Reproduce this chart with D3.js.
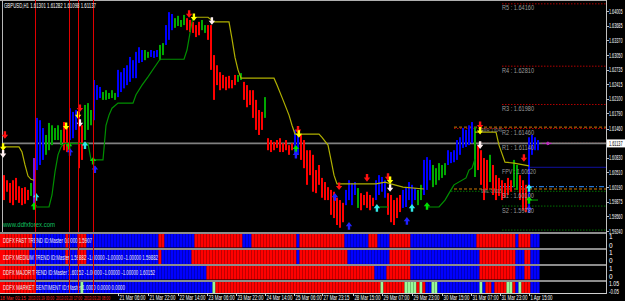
<!DOCTYPE html>
<html><head><meta charset="utf-8">
<script src="https://cdn.jsdelivr.net/npm/d3@7"></script>
<style>html,body{margin:0;padding:0;background:#000;overflow:hidden}svg{display:block}</style>
</head><body><svg id="c" width="625" height="301"></svg>
<script>
// ---------- DATA ----------
const barColorCodes = "RRRRRRRRR"+"G"+"P"+"BBB"+"GGGGGG"+"RR"+"BBB"+"RR"+"GGG"+"BBB"+"GGGGG"+"BBBBBBBBB"+"GG"+"BBB"+"GG"+"BBB"+"GGGG"+"RRRRR"+"GG"+"RRRRRRRRRR"+"GG"+"RRRRRRR"+"G"+"RRRRRRRRR"+"BB"+"RRRRRRRRRRRRRRR"+"BBBB"+"G"+"RRRRR"+"BBBB"+"RRRRR"+"BBBBB"+"GG"+"BBB"+"GGGGG"+"BBBBBBBBB"+"G"+"RRRR"+"G"+"RRRRRRR"+"GG"+"RRR"+"BBBB";
const barHigh = [1.6045,1.6034,1.6028,1.6034,1.6039,1.6021,1.6017,1.6019,1.6013,1.6028,
1.6082,1.6169,1.6164,1.6147,1.6132,1.6158,1.6153,1.6147,1.6153,1.6143,
1.6160,1.6149,1.6190,1.6182,1.6186,1.6182,1.6153,1.6197,1.6201,1.6186,
1.6251,1.6240,1.6236,1.6225,1.6229,1.6223,1.6229,1.6223,1.6273,1.6268,
1.6277,1.6283,1.6301,1.6294,1.6312,1.6322,1.6316,1.6316,1.6312,1.6316,
1.6314,1.6316,1.6327,1.6331,1.6370,1.6398,1.6394,1.6385,1.6390,1.6381,
1.6392,1.6385,1.6381,1.6377,1.6370,1.6377,1.6381,1.6370,1.6370,1.6370,
1.6305,1.6283,1.6268,1.6262,1.6258,1.6260,1.6251,1.6262,1.6262,1.6266,
1.6247,1.6240,1.6229,1.6229,1.6208,1.6186,1.6182,1.6214,1.6125,1.6121,
1.6117,1.6121,1.6125,1.6114,1.6121,1.6110,1.6114,1.6143,1.6132,1.6132,
1.6121,1.6099,1.6099,1.6089,1.6056,1.6067,1.6039,1.6030,1.6019,1.6013,
1.6009,1.5996,1.5991,1.5985,1.6013,1.6034,1.6028,1.6030,1.6017,1.6006,
1.6002,1.6009,1.6002,1.5996,1.6034,1.6045,1.6041,1.6034,1.6006,1.6002,
1.5991,1.5996,1.6002,1.6013,1.6019,1.6030,1.6024,1.6017,1.6013,1.6024,
1.6078,1.6084,1.6078,1.6067,1.6060,1.6071,1.6067,1.6071,1.6099,1.6095,
1.6099,1.6121,1.6127,1.6147,1.6143,1.6153,1.6160,1.6149,1.6110,1.6099,
1.6082,1.6078,1.6089,1.6067,1.6045,1.6039,1.6034,1.6028,1.6039,1.6034,
1.6078,1.6067,1.6045,1.6034,1.6024,1.6127,1.6132,1.6127,1.6121];
const barLow = [1.5991,1.6009,1.5985,1.5980,1.5991,1.5985,1.5980,1.5983,1.5991,1.6000,
1.5974,1.6056,1.6067,1.6078,1.6089,1.6099,1.6110,1.6121,1.6121,1.6110,
1.6099,1.6095,1.6121,1.6125,1.6143,1.6060,1.6078,1.6121,1.6143,1.6153,
1.6164,1.6208,1.6212,1.6208,1.6208,1.6210,1.6212,1.6208,1.6214,1.6225,
1.6233,1.6240,1.6247,1.6255,1.6255,1.6288,1.6290,1.6294,1.6299,1.6301,
1.6299,1.6301,1.6294,1.6305,1.6327,1.6338,1.6359,1.6364,1.6368,1.6366,
1.6370,1.6359,1.6355,1.6353,1.6344,1.6348,1.6359,1.6353,1.6338,1.6273,
1.6208,1.6240,1.6229,1.6233,1.6229,1.6233,1.6233,1.6240,1.6247,1.6251,
1.6208,1.6192,1.6197,1.6169,1.6143,1.6132,1.6143,1.6169,1.6099,1.6095,
1.6099,1.6104,1.6095,1.6095,1.6099,1.6089,1.6099,1.6093,1.6089,1.6078,
1.6060,1.6024,1.6045,1.6009,1.6006,1.6024,1.5996,1.5991,1.5991,1.5959,
1.5952,1.5937,1.5931,1.5943,1.5980,1.5991,1.5980,1.6002,1.5974,1.5969,
1.5980,1.5974,1.5969,1.5978,1.5991,1.6002,1.6009,1.5996,1.5959,1.5943,
1.5937,1.5952,1.5965,1.5974,1.5976,1.5991,1.5980,1.5991,1.5980,1.5991,
1.6002,1.6013,1.6034,1.6019,1.6024,1.6034,1.6039,1.6045,1.6067,1.6071,
1.6073,1.6078,1.6089,1.6104,1.6106,1.6110,1.6114,1.6041,1.6056,1.6024,
1.5991,1.6013,1.6030,1.6002,1.5991,1.6000,1.5991,1.5996,1.6002,1.6009,
1.6019,1.6013,1.5991,1.5969,1.5965,1.5969,1.6089,1.6099,1.6099];

// trailing stop line segments [barIndex, price]
const yellowA = [[0,1.6106],[5,1.6106],[6,1.6095],[7,1.6067],[8,1.6043],[9,1.6036],[10,1.6034]];
const greenB = [[10,1.5976],[15,1.5976],[16,1.6002],[17,1.6052],[18,1.6089],[19,1.6106],[20,1.6114],[28,1.6114],[29,1.6078],[33,1.6078],[34,1.6153],[35,1.6175],[36,1.6190],[38,1.6201],[43,1.6201],[44,1.6219],[46,1.6240],[48,1.6258],[50,1.6277],[52,1.6296],[60,1.6296],[61,1.6316],[62,1.6353],[63,1.6387]];
const yellowC = [[63,1.6387],[68,1.6387],[70,1.6377],[75,1.6377],[76,1.6340],[77,1.6300],[78,1.6273],[79,1.6255],[90,1.6255],[91,1.6240],[93,1.6208],[95,1.6175],[96,1.6153],[97,1.6134],[105,1.6134],[106,1.6127],[108,1.6110],[109,1.6078],[110,1.6045],[111,1.6026],[124,1.6026],[127,1.6030],[129,1.6026],[133,1.6019],[140,1.6015]];
const greenF = [[124,1.5976],[128,1.5976]];
const greenD = [[141,1.5976],[145,1.5976],[147,1.5991],[149,1.6013],[150,1.6024],[154,1.6039],[155,1.6056],[156,1.6060],[157,1.6080]];
const yellowE = [[157,1.6138],[164,1.6138],[165,1.6110],[167,1.6073],[170,1.6071],[175,1.6065]];
const greenG = [[175,1.5991],[178,1.5991]];

// signal arrows [barIndex, price, direction, colourCode]
const arrows = [[0.3,1.6132,"d","R"],[-0.3,1.6106,"d","Y"],[-0.3,1.6091,"d","W"],[10.7,1.5998,"u","A"],[10,1.5978,"u","G"],
[20.7,1.6151,"d","Y"],[21.7,1.6108,"u","G"],[22,1.6095,"u","B"],[25.3,1.6190,"d","R"],[24.7,1.6175,"d","Y"],[25.3,1.6158,"d","W"],
[27,1.6110,"u","A"],[29.7,1.6076,"u","G"],[30.3,1.6058,"u","B"],[61.7,1.6394,"d","R"],[63.3,1.6387,"d","Y"],[69.3,1.6379,"d","W"],
[98,1.6143,"d","R"],[98.3,1.6134,"d","Y"],[97.3,1.6102,"u","G"],[97.3,1.6089,"u","B"],[110.3,1.5998,"u","B"],[111.7,1.6021,"d","R"],
[115,1.5935,"u","B"],[121,1.6039,"d","R"],[128,1.6041,"d","R"],[128.7,1.6034,"d","Y"],[128.7,1.6017,"d","W"],[124.3,1.5974,"u","A"],
[136,1.5974,"u","A"],[134.3,1.5946,"u","B"],[141,1.5978,"u","G"],[158.7,1.6153,"d","R"],[158.7,1.6141,"d","Y"],[158.7,1.6110,"d","W"],
[173.3,1.6082,"d","R"],[175,1.6017,"u","A"],[175,1.5991,"u","G"],[175,1.5971,"u","B"]];

// pivot levels
const pivotNames = ["R5","R4","R3","R2","R1","FPV","S1","S2","S3"];
const pivotValues = [1.64160,1.62810,1.61980,1.61460,1.61140,1.60620,1.60100,1.59780,1.59260];
const pivotStart = [166,166,166,150,150,175,149,166,166];
const pivotLabelShown = [true,true,true,true,true,true,true,true,false];
const swingNames = ["SWH","SWL"];
const swingValues = [1.6149,1.6015];
const blueLevel = 1.6020;

const priceTicks = [1.64005,1.63685,1.63370,1.63050,1.62735,1.62415,1.62100,1.61790,1.61460,1.60830,1.60510,1.60190,1.59875,1.59560,1.59240];
const currentPrice = 1.61137;
const header = "GBPUSD,H1  1.61301 1.61282 1.61098 1.61137";

const vLineIdx = [10.33,21.67,24.67,29.67];
const timeLabels = ["21 Mar 06:00","21 Mar 22:00","22 Mar 14:00","23 Mar 06:00","23 Mar 22:00","24 Mar 14:00","25 Mar 06:00","27 Mar 23:15","28 Mar 15:00","29 Mar 07:00","29 Mar 23:00","30 Mar 15:00","31 Mar 07:00","31 Mar 23:00","1 Apr 15:00"];
const timeIdx = [38,48,58,67.7,77.3,87,96.7,106,116.3,126,136,146,155.7,165.3,175];
const vLineLabels = ["18 Mar 01:15","2013.03.19 00:00","2013.03.20 17:00","2013.03.20 08:00"];

// indicator panel states (run lengths over bars)
const fastRuns = [["R",10],["B",11],["R",1],["B",3],["R",3],["B",24],["R",2],["B",10],["R",16],["B",3],["R",15],["B",1],["R",15],["B",8],["R",3],["B",4],["R",7],["B",22],["R",13],["B",1],["R",4],["B",3]];
const mediumRuns = [["R",9],["B",12],["R",1],["B",3],["R",3],["B",24],["R",1],["B",10],["R",35],["B",1],["R",16],["B",14],["R",7],["B",23],["R",12],["B",3],["R",2],["B",3]];
const majorRuns = [["R",11],["B",57],["R",56],["B",4],["R",8],["B",23],["R",12],["B",3],["R",2],["B",3]];
const sentimentRuns = [["R",11],["B",15],["L",1],["B",43],["L",1],["R",55],["L",1],["R",7],["L",4],["R",1],["L",1],["R",1],["B",2],["L",2],["B",14],["L",1],["B",1],["R",2],["B",1],["R",4],["L",2],["R",1],["B",1],["L",1],["R",3],["B",3]];
const panelTitles = ["DDFX FAST TREND ID:Master 0.0000 1.5907",
 "DDFX MEDIUM TREND ID:Master 1.59882 -1.00000 -1.00000 -1.00000 1.59882",
 "DDFX MAJOR TREND ID:Master 1.60152 -1.00000 -1.00000 -1.00000 1.60152",
 "DDFX MARKET SENTIMENT ID:Master 1.0000 0.0000 0.0000"];
const panelTickLabels = [["1","0"],["1","0"],["1","0"],["1.05","-0.05"]];
const panelTickValues = [[1,0],[1,0],[1,0],[1.05,-0.05]];

// ---------- DRAW ----------
const svg = d3.select("#c");
const FONT = "Liberation Sans, Arial, sans-serif";
svg.append("rect").attr("width",625).attr("height",301).attr("fill","#000");

const x = d3.scaleLinear().domain([0,178]).range([4,538]);
const y = d3.scaleLinear().domain([1.59240,1.64005]).range([231,11]);
const col = {R:"#ff0000",B:"#0000ff",G:"#00a800",P:"#7a10e0",L:"#98f898",Y:"#ffff00",W:"#ffffff",A:"#00ffff"};
const arrowCol = {R:"#ff1010",Y:"#ffff00",W:"#fff0f0",G:"#00e000",A:"#30e8e8",B:"#2020ff"};
const AX = 606;

const main = svg.append("g");
main.append("clipPath").attr("id","mc").append("rect").attr("x",0).attr("y",0).attr("width",AX).attr("height",232);
const mg = main.append("g").attr("clip-path","url(#mc)");

svg.append("line").attr("x1",0).attr("x2",AX).attr("y1",0.5).attr("y2",0.5).attr("stroke","#b0b0b0");
mg.append("line").attr("x1",2.5).attr("x2",2.5).attr("y1",0).attr("y2",232).attr("stroke","#b8b8b8").attr("stroke-width",1);

pivotValues.forEach((v,i)=>{
  const isR = pivotNames[i][0]==="R";
  const fpv = pivotNames[i]==="FPV";
  mg.append("line").attr("x1",x(pivotStart[i])).attr("x2",AX).attr("y1",y(v)).attr("y2",y(v))
    .attr("stroke", fpv?"#1010a0":(isR?"#b00000":"#007000")).attr("stroke-width",1)
    .attr("stroke-dasharray", fpv?null:"1.5,1.5");
});
swingValues.forEach(v=>{
  mg.append("line").attr("x1",x(150)).attr("x2",AX).attr("y1",y(v)).attr("y2",y(v))
    .attr("stroke","#d07a00").attr("stroke-dasharray","3,2");
});
mg.append("line").attr("x1",x(165)).attr("x2",AX).attr("y1",y(blueLevel)).attr("y2",y(blueLevel))
  .attr("stroke","#3090ff").attr("stroke-dasharray","5,2,1,2");

mg.append("line").attr("x1",3).attr("x2",AX).attr("y1",y(currentPrice)).attr("y2",y(currentPrice))
  .attr("stroke","#808080").attr("stroke-width",1.6);

vLineIdx.forEach(v=>{
  svg.append("line").attr("x1",Math.round(x(v))+0.5).attr("x2",Math.round(x(v))+0.5).attr("y1",0).attr("y2",293)
    .attr("stroke","#e00000").attr("stroke-width",1);
});

mg.selectAll("rect.bar").data(barHigh).enter().append("rect").attr("class","bar")
  .attr("x",(d,i)=>x(i)-1).attr("width",2)
  .attr("y",(d,i)=>y(d)).attr("height",(d,i)=>Math.max(1,y(barLow[i])-y(d)))
  .attr("fill",(d,i)=>col[barColorCodes[i]]);

const ln = d3.line().x(d=>x(d[0])).y(d=>y(d[1]));
[[yellowA,"#b0b000"],[greenB,"#009000"],[yellowC,"#b0b000"],[greenF,"#009000"],[greenD,"#009000"],[yellowE,"#b0b000"],[greenG,"#009000"]]
 .forEach(([s,c])=>mg.append("path").attr("d",ln(s)).attr("fill","none").attr("stroke",c).attr("stroke-width",1.2));

const downP = "M-1.2,-3.8H1.2V-0.3H3.2L0,3.8L-3.2,-0.3H-1.2Z";
const upP = "M-1.2,3.8H1.2V0.3H3.2L0,-3.8L-3.2,0.3H-1.2Z";
mg.selectAll("path.arr").data(arrows).enter().append("path").attr("class","arr")
  .attr("d",d=>d[2]==="d"?downP:upP)
  .attr("transform",d=>`translate(${x(d[0])},${y(d[1])})`)
  .attr("fill",d=>arrowCol[d[3]]);

mg.append("line").attr("x1",x(179.5)).attr("x2",x(183)).attr("y1",y(currentPrice)).attr("y2",y(currentPrice))
  .attr("stroke","#d020d0").attr("stroke-dasharray","2,1.5");
mg.append("circle").attr("cx",x(181.3)).attr("cy",y(currentPrice)).attr("r",1.3).attr("fill","none").attr("stroke","#d020d0");

function t(g,s,xx,yy,fill,size,len,anchor){
  const e=g.append("text").attr("x",xx).attr("y",yy).text(s).attr("fill",fill)
   .attr("font-family",FONT).attr("font-size",size);
  if(len) e.attr("textLength",len).attr("lengthAdjust","spacingAndGlyphs");
  if(anchor) e.attr("text-anchor",anchor);
  return e;
}
pivotValues.forEach((v,i)=>{
  if(!pivotLabelShown[i]) return;
  const s = pivotNames[i]+" : "+v.toFixed(5);
  t(mg,s,x(166),y(v)+6.5,"#9a9a9a",7, pivotNames[i]==="FPV"?34:32);
});
t(mg,swingNames[0]+": "+swingValues[0].toFixed(4),x(159),y(swingValues[0])+4.5,"#8a8a8a",6,21);
t(mg,swingNames[1]+": "+swingValues[1].toFixed(4),x(159),y(swingValues[1])+4.5,"#8a8a8a",6,21);

t(svg,header,4,7.5,"#ffffff",7,92);
t(svg,"www.ddfxforex.com",3,227,"#10c060",7.5,52);

svg.append("line").attr("x1",AX+0.5).attr("x2",AX+0.5).attr("y1",0).attr("y2",294).attr("stroke","#c0c0c0");
priceTicks.forEach(v=>{
  svg.append("line").attr("x1",AX).attr("x2",AX+3).attr("y1",Math.round(y(v))+0.5).attr("y2",Math.round(y(v))+0.5).attr("stroke","#c0c0c0");
  t(svg,v.toFixed(5),609,y(v)+2.5,"#ffffff",6.5,13.5);
});
svg.append("rect").attr("x",607).attr("y",y(currentPrice)-4).attr("width",18).attr("height",8).attr("fill","#ffffff");
t(svg,currentPrice.toFixed(5),609,y(currentPrice)+2.5,"#000000",6.5,13.5);

const panels = [
  {runs:fastRuns, top:234, bot:247.5, y1:236, y0:245},
  {runs:mediumRuns, top:250, bot:264, y1:252, y0:260.5},
  {runs:majorRuns, top:266, bot:279.5, y1:268, y0:276.5},
  {runs:sentimentRuns, top:282, bot:293, y1:283, y0:291.5}
];
[[232,2],[248,2],[264,2],[280,2]].forEach(([yy,h])=>svg.append("rect").attr("x",0).attr("y",yy).attr("width",AX).attr("height",h).attr("fill","#8c8c8c"));
panels.forEach((p,pi)=>{
  const states=[]; p.runs.forEach(([s,n])=>{for(let k=0;k<n;k++)states.push(s);});
  const py = d3.scaleLinear().domain(panelTickValues[pi]).range([p.y1,p.y0]);
  const g = svg.append("g");
  g.selectAll("rect").data(states).enter().append("rect")
    .attr("x",(d,i)=>i===0?0:x(i)-1.5).attr("width",(d,i)=>i===0?x(0)+1.5:3)
    .attr("y",p.top).attr("height",p.bot-p.top).attr("fill",d=>col[d]);
  t(g,panelTitles[pi],3,(p.top+p.bot)/2+2.5,"#f0f0f0",6.5,null)
    .attr("textLength",[89,155,152,122][pi]).attr("lengthAdjust","spacingAndGlyphs");
  panelTickValues[pi].forEach((v,k)=>{
    t(svg,panelTickLabels[pi][k],609,py(v)+2.5,"#ffffff",6.5,panelTickLabels[pi][k].length>2?10:null);
  });
});
vLineIdx.forEach(v=>{
  svg.append("line").attr("x1",Math.round(x(v))+0.5).attr("x2",Math.round(x(v))+0.5).attr("y1",234).attr("y2",293)
    .attr("stroke","#e00000").attr("stroke-width",1);
});

svg.append("line").attr("x1",0).attr("x2",AX).attr("y1",293.5).attr("y2",293.5).attr("stroke","#d0d0d0");
timeIdx.forEach((v,i)=>{
  svg.append("line").attr("x1",Math.round(x(v))+0.5).attr("x2",Math.round(x(v))+0.5).attr("y1",293).attr("y2",296).attr("stroke","#d0d0d0");
  t(svg,timeLabels[i],x(v)+1.5,299.5,"#ffffff",6.5,timeLabels[i].length>11?26:22);
});
vLineLabels.forEach((s,i)=>{
  const xx=[0,28,56,84][i];
  t(svg,s,xx,299.5,"#ff2020",6,26);
});
</script></body></html>
